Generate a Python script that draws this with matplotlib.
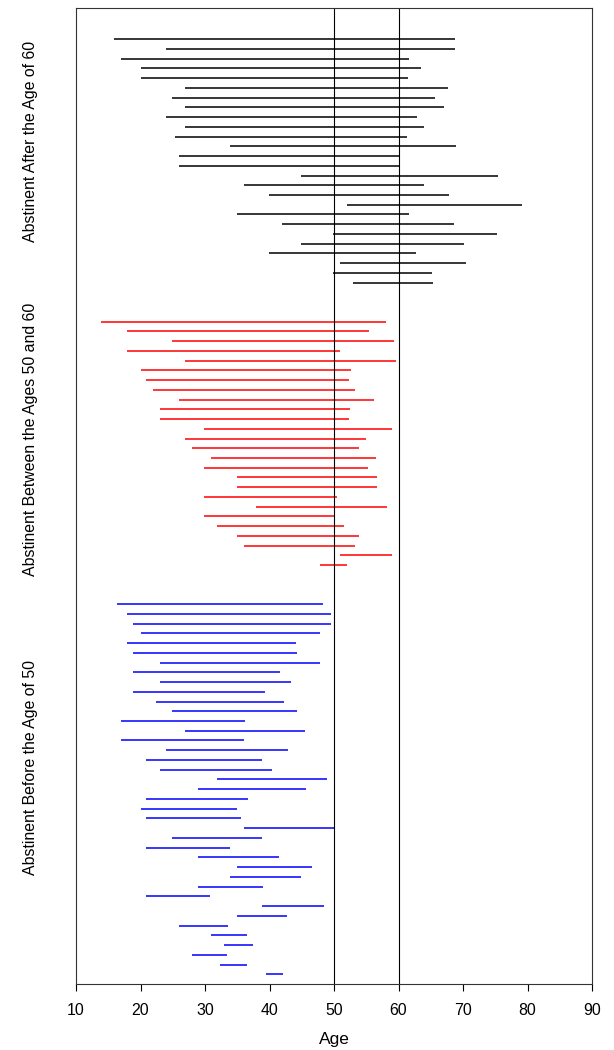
import matplotlib
matplotlib.use('Agg')
import matplotlib.pyplot as plt
import matplotlib.transforms as mtransforms
import numpy as np

plt.rcParams['font.family'] = ['Liberation Sans', 'DejaVu Sans']

# abstinent after 60 (black), top to bottom
after60_start = [15.9, 24.0, 16.9, 20.0, 20.0, 26.9, 24.9, 26.9, 23.9, 26.9, 25.4, 33.9, 25.9,
                 25.9, 44.9, 36.0, 39.9, 52.0, 34.9, 41.9, 49.9, 44.9, 39.9, 50.9, 49.9, 52.9]
after60_end = [68.8, 68.8, 61.6, 63.5, 61.5, 67.7, 65.6, 67.0, 62.8, 63.9, 61.3, 68.9, 60.3,
               60.2, 75.5, 64.0, 67.8, 79.1, 61.7, 68.6, 75.3, 70.1, 62.7, 70.4, 65.2, 65.3]

# abstinent between 50 and 60 (red)
mid_start = [13.9, 17.9, 24.9, 17.9, 26.9, 20.0, 20.9, 21.9, 25.9, 23.0, 23.0, 29.9, 26.9,
             28.0, 30.9, 29.9, 34.9, 34.9, 29.9, 37.9, 29.9, 31.9, 34.9, 36.0, 50.9, 47.9]
mid_end = [58.1, 55.5, 59.3, 50.9, 59.6, 52.7, 52.3, 53.2, 56.2, 52.5, 52.3, 59.0, 54.9,
           53.8, 56.5, 55.3, 56.7, 56.6, 50.5, 58.2, 50.2, 51.5, 53.8, 53.2, 59.0, 52.0]

# abstinent before 50 (blue)
before50_start = [16.4, 17.9, 18.9, 20.0, 17.9, 18.9, 23.0, 18.9, 23.0, 18.9, 22.4, 24.9, 16.9,
                  26.9, 16.9, 23.9, 20.9, 23.0, 31.9, 28.9, 20.9, 20.0, 20.9, 36.0, 24.9, 20.9,
                  28.9, 34.9, 33.9, 28.9, 20.9, 38.9, 34.9, 25.9, 30.9, 32.9, 28.0, 32.4, 39.4]
before50_end = [48.3, 49.5, 49.6, 47.9, 44.1, 44.2, 47.8, 41.7, 43.4, 39.3, 42.2, 44.2, 36.2,
                45.5, 36.0, 42.9, 38.9, 40.4, 48.9, 45.7, 36.6, 34.9, 35.6, 50.0, 38.9, 33.8,
                41.5, 46.6, 44.9, 39.0, 30.7, 48.5, 42.7, 33.6, 36.5, 37.5, 33.4, 36.5, 42.1]

group_labels = ['Abstinent After the Age of 60', 'Abstinent Between the Ages 50 and 60',
                'Abstinent Before the Age of 50']
group_colors = ['black', '#ff0000', '#0000ff']
ref_ages = [50, 60]
xticks = [10, 20, 30, 40, 50, 60, 70, 80, 90]

groups = [(after60_start, after60_end), (mid_start, mid_end), (before50_start, before50_end)]

fig = plt.figure(figsize=(6.14, 10.5), dpi=100)
ax = fig.add_axes([76/614, 1-984/1050, 516/614, 976/1050])

gap = 3
top = 97
label_y = [86.5, 55.9, 22.2]
trans = mtransforms.blended_transform_factory(ax.transAxes, ax.transData)
for (s, e), col, lab, ly in zip(groups, group_colors, group_labels, label_y):
    n = len(s)
    y = top - np.arange(n)
    ax.hlines(y, s, e, colors=col, linewidth=1.1)
    ax.text(-0.089, ly, lab, rotation=90, ha='center', va='center', fontsize=11.4, transform=trans)
    top = top - n - gap

for a in ref_ages:
    ax.axvline(a, color='black', linewidth=0.8)

ax.set_xlim(10, 90)
ax.set_ylim(0, 100.2)
ax.set_xticks(xticks)
ax.set_yticks([])
ax.tick_params(axis='x', direction='out', length=5, width=0.8, labelsize=11.4, pad=9)
ax.set_xlabel('Age', fontsize=12.5, labelpad=10)
for sp in ax.spines.values():
    sp.set_linewidth(0.8)
    sp.set_color('#333333')

fig.savefig('out.png', dpi=100)
